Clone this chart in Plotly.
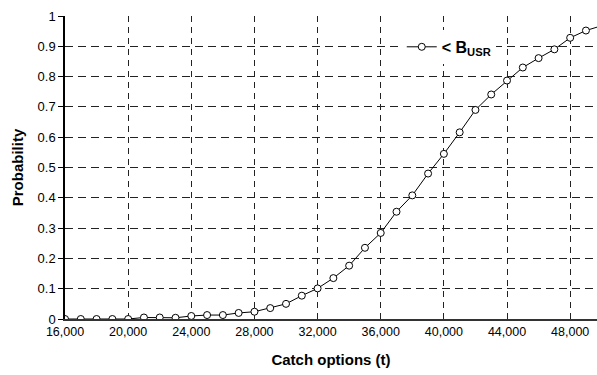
import plotly.graph_objects as go

catch = [16000, 17000, 18000, 19000, 20000, 21000, 22000, 23000, 24000, 25000,
         26000, 27000, 28000, 29000, 30000, 31000, 32000, 33000, 34000, 35000,
         36000, 37000, 38000, 39000, 40000, 41000, 42000, 43000, 44000, 45000,
         46000, 47000, 48000, 49000, 50000]
prob = [0.0, 0.0, 0.0, 0.0, 0.0, 0.005, 0.005, 0.004, 0.01, 0.013,
        0.013, 0.02, 0.024, 0.036, 0.05, 0.077, 0.101, 0.135, 0.176, 0.235,
        0.284, 0.354, 0.408, 0.48, 0.545, 0.616, 0.69, 0.741, 0.787, 0.83,
        0.861, 0.89, 0.928, 0.952, 0.968]

x_ticks = [16000, 20000, 24000, 28000, 32000, 36000, 40000, 44000, 48000]
x_ticklabels = ["16,000", "20,000", "24,000", "28,000", "32,000", "36,000", "40,000", "44,000", "48,000"]
y_ticks = [0, 0.1, 0.2, 0.3, 0.4, 0.5, 0.6, 0.7, 0.8, 0.9, 1]
y_ticklabels = ["0", "0.1", "0.2", "0.3", "0.4", "0.5", "0.6", "0.7", "0.8", "0.9", "1"]

fig = go.Figure()
fig.add_trace(go.Scatter(
    x=catch, y=prob, mode="lines+markers", name="<b>< B<sub>USR</sub></b>",
    line=dict(color="black", width=1),
    marker=dict(symbol="circle", size=7, color="white", line=dict(color="black", width=1)),
))

font = "Liberation Sans, Arial, sans-serif"
fig.update_layout(
    width=597, height=375,
    margin=dict(l=65, r=0, t=16, b=56),
    paper_bgcolor="white", plot_bgcolor="white",
    font=dict(family=font, size=12.5, color="black"),
    showlegend=True,
    legend=dict(x=0.633, y=0.898, xanchor="left", yanchor="middle",
                bgcolor="white", borderwidth=0, font=dict(size=16, color="black"),
                itemwidth=30),
    xaxis=dict(range=[16000, 49700], tickvals=x_ticks, ticktext=x_ticklabels,
               showgrid=True, gridcolor="#222", griddash="6px,5px", gridwidth=1,
               showline=True, linecolor="#333", linewidth=2, zeroline=False,
               ticks="", tickfont=dict(size=12.5),
               title=dict(text="<b>Catch options (t)</b>", font=dict(size=15), standoff=16)),
    yaxis=dict(range=[0, 1], tickvals=y_ticks, ticktext=y_ticklabels,
               showgrid=True, gridcolor="#222", griddash="8px,5px", gridwidth=1,
               showline=True, linecolor="black", linewidth=1.5, zeroline=False,
               ticks="outside", ticklen=5, tickcolor="black", tickfont=dict(size=13),
               title=dict(text="<b>Probability</b>", font=dict(size=15), standoff=10)),
)

fig.write_html("out.html")
